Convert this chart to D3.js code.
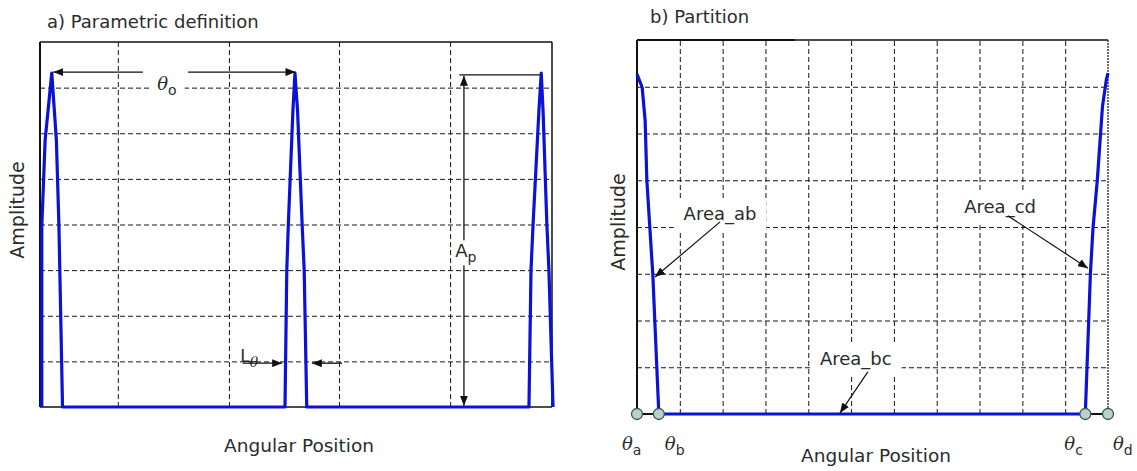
<!DOCTYPE html>
<html>
<head>
<meta charset="utf-8">
<script src="https://cdn.jsdelivr.net/npm/d3@7"></script>
<style>
body { margin: 0; background: #fff; }
text { font-family: "DejaVu Sans", sans-serif; fill: #2b2b2b; }
</style>
</head>
<body>
<div id="canvas"></div>
<script>
const width = 1137;
const height = 471;

// a) parametric definition : angular position (0-100) vs amplitude (0-8)
const angleA = [0.35, 0.35, 1.0, 2.3, 3.2, 3.7, 4.4,
                47.85, 48.2, 48.5, 49.4, 49.8, 50.3, 51.2, 51.6, 52.1,
                95.5, 95.9, 96.3, 97.45, 97.9, 98.25, 99.0, 99.4, 100.2];
const ampA   = [0, 3.95, 5.85, 7.32, 5.85, 3.95, 0,
                0, 3.0, 4.0, 6.5, 7.32, 6.5, 4.0, 3.0, 0,
                0, 3.0, 4.0, 6.5, 7.32, 6.5, 4.0, 3.0, 0];
const gridAngleA = [15.2, 36.9, 58.4, 80.1];
const gridAmpA = [1, 2, 3, 4, 5, 6, 7];

// b) partition : angular position (0-11) vs amplitude (0-8)
const angleB = [0, 0.12, 0.19, 0.23, 0.37, 0.51, 10.47, 10.59, 10.65, 10.75, 10.87, 10.96, 11.0];
const ampB   = [7.27, 6.99, 6.28, 5.0, 2.97, 0, 0, 3.02, 3.98, 5.0, 6.57, 7.14, 7.29];
const gridAngleB = [1, 2, 3, 4, 5, 6, 7, 8, 9, 10];
const gridAmpB = [1, 2, 3, 4, 5, 6, 7];
const thetaNames = ["a", "b", "c", "d"];
const thetaAngles = [0, 0.51, 10.47, 11.0];

const blue = "#0a12d6";

const svg = d3.select("#canvas")
    .append("svg")
    .attr("width", width)
    .attr("height", height);

// arrow head
svg.append("defs").append("marker")
    .attr("id", "arr")
    .attr("markerUnits", "userSpaceOnUse")
    .attr("markerWidth", 11).attr("markerHeight", 8)
    .attr("refX", 10).attr("refY", 4)
    .attr("orient", "auto-start-reverse")
    .append("path")
    .attr("d", "M0,0 L10,4 L0,8 Z")
    .attr("fill", "#111");

const xA = d3.scaleLinear().domain([0, 100]).range([40, 552]);
const yA = d3.scaleLinear().domain([0, 8]).range([407, 42]);
const xB = d3.scaleLinear().domain([0, 11]).range([637, 1108]);
const yB = d3.scaleLinear().domain([0, 8]).range([414, 40]);

// dashed grid drawn with d3 axes, no labels
function drawGrid(x, y, xs, ys) {
    const h = y.range()[0] - y.range()[1];
    const w = x.range()[1] - x.range()[0];
    const gx = svg.append("g")
        .attr("transform", `translate(0,${y.range()[0]})`)
        .call(d3.axisBottom(x).tickValues(xs).tickSize(-h).tickFormat(""));
    const gy = svg.append("g")
        .attr("transform", `translate(${x.range()[0]},0)`)
        .call(d3.axisLeft(y).tickValues(ys).tickSize(-w).tickFormat(""));
    [gx, gy].forEach(g => {
        g.select(".domain").remove();
        g.selectAll(".tick line")
            .attr("stroke", "#161616")
            .attr("stroke-width", 1)
            .attr("stroke-dasharray", "5,3");
    });
}

function line(x1, y1, x2, y2, w, arrowEnd, arrowStart) {
    const l = svg.append("line")
        .attr("x1", x1).attr("y1", y1).attr("x2", x2).attr("y2", y2)
        .attr("stroke", "#111").attr("stroke-width", w || 1);
    if (arrowEnd) l.attr("marker-end", "url(#arr)");
    if (arrowStart) l.attr("marker-start", "url(#arr)");
    return l;
}

// white box behind a text element
function boxBehind(t, px, py) {
    const b = t.node().getBBox();
    svg.insert("rect", () => t.node())
        .attr("x", b.x - px).attr("y", b.y - py)
        .attr("width", b.width + 2 * px).attr("height", b.height + 2 * py)
        .attr("fill", "#fff");
}

// symbol with a subscript, e.g. theta_a
function subLabel(x, y, main, sub, italic, subItalic) {
    const t = svg.append("text").attr("x", x).attr("y", y).style("font-size", "18px");
    t.append("tspan").text(main)
        .style("font-family", italic ? "'DejaVu Serif', serif" : null)
        .style("font-style", italic ? "italic" : null);
    t.append("tspan").attr("dy", 5).text(sub).style("font-size", "14px")
        .style("font-family", subItalic ? "'DejaVu Serif', serif" : null)
        .style("font-style", subItalic ? "italic" : null);
    return t;
}

/* ---------- panel a ---------- */
drawGrid(xA, yA, gridAngleA, gridAmpA);

svg.append("line").attr("x1", xA(0)).attr("x2", xA(100)).attr("y1", yA(8)).attr("y2", yA(8))
    .attr("stroke", "#111").attr("stroke-width", 1.5);
svg.append("line").attr("x1", xA(0)).attr("x2", xA(100)).attr("y1", yA(0)).attr("y2", yA(0))
    .attr("stroke", "#111").attr("stroke-width", 1.5);
svg.append("line").attr("x1", xA(0)).attr("x2", xA(0)).attr("y1", yA(8)).attr("y2", yA(0))
    .attr("stroke", "#111").attr("stroke-width", 2);
svg.append("line").attr("x1", xA(100)).attr("x2", xA(100)).attr("y1", yA(8)).attr("y2", yA(0))
    .attr("stroke", "#111").attr("stroke-width", 1.5);

svg.append("path")
    .datum(d3.zip(angleA, ampA))
    .attr("d", d3.line().x(d => xA(d[0])).y(d => yA(d[1])))
    .attr("fill", "none")
    .attr("stroke", blue)
    .attr("stroke-width", 3.2)
    .attr("stroke-linejoin", "round");

// theta_o
const tO = subLabel(xA(22.9), yA(6.95), "\u03B8", "o", true);
boxBehind(tO, 8, 4);
line(xA(20.1), yA(7.34), xA(2.6), yA(7.34), 1.3, true);
line(xA(28.9), yA(7.34), xA(49.9), yA(7.34), 1.3, true);

// A_p
line(xA(81.9), yA(7.28), xA(97.7), yA(7.28), 1.3);
line(xA(82.8), yA(7.26), xA(82.8), yA(0.03), 1.3, true, true);
const tAp = subLabel(xA(81.1), yA(3.28), "A", "p", false);
boxBehind(tAp, 3, 0);

// L_theta
subLabel(xA(39.1), yA(0.98), "L", "\u03B8", false, true).style("font-size", "17px");
line(xA(39.6), yA(0.96), xA(47.3), yA(0.96), 1.3, true);
line(xA(59.0), yA(0.96), xA(53.1), yA(0.96), 1.3, true);

svg.append("text").attr("x", 47).attr("y", 28).style("font-size", "18px")
    .text("a) Parametric definition");
svg.append("text").attr("x", (xA(0) + xA(100)) / 2 + 3).attr("y", 452)
    .attr("text-anchor", "middle").style("font-size", "18.5px")
    .text("Angular Position");
svg.append("text").attr("transform", "translate(24,210) rotate(-90)")
    .attr("text-anchor", "middle").style("font-size", "19px")
    .text("Amplitude");

/* ---------- panel b ---------- */
drawGrid(xB, yB, gridAngleB, gridAmpB);

svg.append("line").attr("x1", xB(0)).attr("x2", xB(3.7)).attr("y1", yB(8)).attr("y2", yB(8))
    .attr("stroke", "#111").attr("stroke-width", 2.2);
svg.append("line").attr("x1", xB(3.7)).attr("x2", xB(11)).attr("y1", yB(8)).attr("y2", yB(8))
    .attr("stroke", "#111").attr("stroke-width", 1.3);
svg.append("line").attr("x1", xB(0)).attr("x2", xB(0)).attr("y1", yB(8)).attr("y2", yB(0))
    .attr("stroke", "#111").attr("stroke-width", 2);
svg.append("line").attr("x1", xB(11)).attr("x2", xB(11)).attr("y1", yB(8)).attr("y2", yB(0))
    .attr("stroke", "#222").attr("stroke-width", 1.3).attr("stroke-dasharray", "2,1");
svg.append("line").attr("x1", xB(0)).attr("x2", xB(11)).attr("y1", yB(0)).attr("y2", yB(0))
    .attr("stroke", "#111").attr("stroke-width", 2);

svg.append("path")
    .datum(d3.zip(angleB, ampB))
    .attr("d", d3.line().x(d => xB(d[0])).y(d => yB(d[1])))
    .attr("fill", "none")
    .attr("stroke", blue)
    .attr("stroke-width", 3.2)
    .attr("stroke-linejoin", "round");

svg.selectAll(".pt")
    .data(thetaAngles)
    .join("circle")
    .attr("class", "pt")
    .attr("cx", d => xB(d))
    .attr("cy", yB(0))
    .attr("r", 5.5)
    .attr("fill", "#b9d0cf")
    .attr("stroke", "#3b5554")
    .attr("stroke-width", 1.3);

// theta labels under the points
const thetaDx = [-15, 6, -21, 5];
thetaNames.forEach((n, i) => {
    subLabel(xB(thetaAngles[i]) + thetaDx[i], 450, "\u03B8", n, true);
});

// area labels with arrows
const areas = [
    { name: "Area_ab", x: 1.94, y: 4.15, from: [1.94, 4.11], to: [0.42, 2.93] },
    { name: "Area_cd", x: 8.48, y: 4.30, from: [8.66, 4.24], to: [10.53, 3.12] },
    { name: "Area_bc", x: 5.11, y: 1.05, from: [5.39, 0.90], to: [4.74, 0.02] }
];
areas.forEach(a => {
    const t = svg.append("text")
        .attr("x", xB(a.x)).attr("y", yB(a.y))
        .attr("text-anchor", "middle")
        .style("font-size", "18px")
        .text(a.name);
    boxBehind(t, 10, 5);
    line(xB(a.from[0]), yB(a.from[1]), xB(a.to[0]), yB(a.to[1]), 1.2, true);
});

svg.append("text").attr("x", 650).attr("y", 23).style("font-size", "18px")
    .text("b) Partition");
svg.append("text").attr("x", 876).attr("y", 462)
    .attr("text-anchor", "middle").style("font-size", "18.5px")
    .text("Angular Position");
svg.append("text").attr("transform", "translate(625,222) rotate(-90)")
    .attr("text-anchor", "middle").style("font-size", "19px")
    .text("Amplitude");
</script>
</body>
</html>
